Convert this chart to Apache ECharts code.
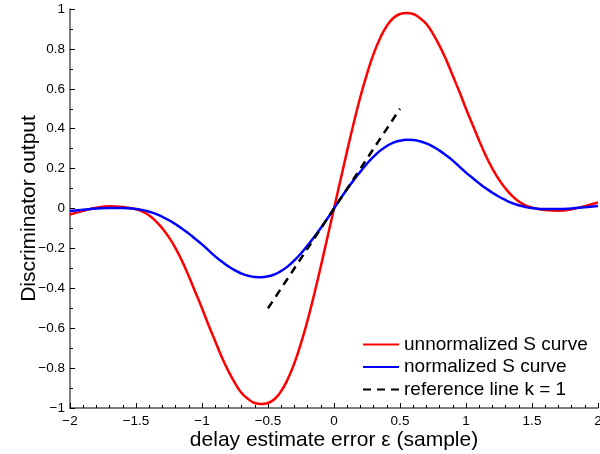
<!DOCTYPE html>
<html>
<head>
<meta charset="utf-8">
<script src="https://cdn.jsdelivr.net/npm/echarts@6/dist/echarts.min.js"></script>
<style>
  html, body { margin: 0; padding: 0; background: #fff; }
  #chart { width: 600px; height: 454px; }
</style>
</head>
<body>
<div id="chart"></div>
<script>
// x samples (delay estimate error) for the right half, curves are odd-symmetric
var xHalf = [0, 0.05, 0.1, 0.15, 0.2, 0.25, 0.3, 0.35, 0.4, 0.45, 0.5, 0.55, 0.6, 0.65, 0.7, 0.75, 0.8, 0.85, 0.9, 0.95,
             1.0, 1.05, 1.1, 1.15, 1.2, 1.25, 1.3, 1.35, 1.4, 1.45, 1.5, 1.6, 1.7, 1.8, 1.9, 2.0];
// unnormalized S curve (red)
var redHalf = [0, 0.145, 0.29, 0.43, 0.56, 0.675, 0.775, 0.855, 0.915, 0.955, 0.975, 0.98, 0.975, 0.955, 0.925, 0.875, 0.815, 0.745, 0.665, 0.585,
               0.50, 0.42, 0.34, 0.265, 0.20, 0.145, 0.10, 0.063, 0.035, 0.016, 0.004, -0.008, -0.011, -0.004, 0.012, 0.03];
// normalized S curve (blue)
var blueHalf = [0, 0.05, 0.098, 0.143, 0.185, 0.225, 0.26, 0.29, 0.313, 0.33, 0.34, 0.344, 0.343, 0.337, 0.326, 0.31, 0.29, 0.266, 0.24, 0.21,
                0.18, 0.153, 0.126, 0.101, 0.079, 0.059, 0.042, 0.027, 0.016, 0.008, 0.002, -0.003, -0.003, 0.0, 0.006, 0.012];
// reference line k = 1
var refLine = [[-0.5, -0.5], [0.5, 0.5]];

var legendNames = ['unnormalized S curve', 'normalized S curve', 'reference line k = 1'];

function mirror(xs, ys) {
    var out = [];
    for (var i = xs.length - 1; i > 0; i--) out.push([-xs[i], -ys[i]]);
    for (var j = 0; j < xs.length; j++) out.push([xs[j], ys[j]]);
    return out;
}

function fmt(v) {
    return String(v).replace('-', '\u2212');
}

var myChart = echarts.init(document.getElementById('chart'));

var fontName = 'Liberation Sans, Arial, sans-serif';
var tickFont = { fontFamily: fontName, fontSize: 13.5, color: '#000' };

var option = {
    backgroundColor: '#fff',
    animation: false,
    grid: { left: 70, right: 2, top: 9, bottom: 46, containLabel: false, outerBoundsMode: 'none' },
    legend: {
        orient: 'vertical',
        left: 357,
        top: 330,
        itemWidth: 36,
        itemHeight: 12,
        itemGap: 3.5,
        data: legendNames,
        itemStyle: { opacity: 0 },
        textStyle: { fontFamily: fontName, fontSize: 19, color: '#000' }
    },
    xAxis: {
        type: 'value',
        min: -2, max: 2, interval: 0.5,
        name: 'delay estimate error \u03b5 (sample)',
        nameLocation: 'middle',
        nameGap: 22,
        nameMoveOverlap: false,
        nameTextStyle: { fontFamily: fontName, fontSize: 21, color: '#000' },
        axisLine: { onZero: false, lineStyle: { color: '#555', width: 1.5 } },
        axisTick: { inside: true, length: 5, lineStyle: { color: '#000' } },
        minorTick: { show: true, splitNumber: 5, length: 3, lineStyle: { color: '#000' } },
        splitLine: { show: false },
        axisLabel: Object.assign({ margin: 6, formatter: fmt, showMaxLabel: true }, tickFont)
    },
    yAxis: {
        type: 'value',
        min: -1, max: 1, interval: 0.2,
        name: 'Discriminator output',
        nameLocation: 'middle',
        nameGap: 30,
        nameMoveOverlap: false,
        nameTextStyle: { fontFamily: fontName, fontSize: 21, color: '#000' },
        axisLine: { show: true, onZero: false, lineStyle: { color: '#555', width: 1.5 } },
        axisTick: { show: true, inside: true, length: 5, lineStyle: { color: '#000' } },
        minorTick: { show: true, splitNumber: 2, length: 3, lineStyle: { color: '#000' } },
        splitLine: { show: false },
        axisLabel: Object.assign({ margin: 5, formatter: function (v) { return fmt(Math.round(v * 10) / 10); } }, tickFont)
    },
    series: [
        {
            name: legendNames[0],
            type: 'line',
            data: mirror(xHalf, redHalf),
            smooth: true,
            showSymbol: false,
            symbol: 'none',
            lineStyle: { color: '#ff0000', width: 2.5 },
            itemStyle: { color: '#ff0000' },
            z: 2
        },
        {
            name: legendNames[1],
            type: 'line',
            data: mirror(xHalf, blueHalf),
            smooth: true,
            showSymbol: false,
            symbol: 'none',
            lineStyle: { color: '#0000ff', width: 2.5 },
            itemStyle: { color: '#0000ff' },
            z: 3
        },
        {
            name: legendNames[2],
            type: 'line',
            data: refLine,
            showSymbol: false,
            symbol: 'none',
            lineStyle: { color: '#000', width: 2.5, type: [8, 6] },
            itemStyle: { color: '#000' },
            z: 4
        }
    ]
};
myChart.setOption(option);
</script>
</body>
</html>
